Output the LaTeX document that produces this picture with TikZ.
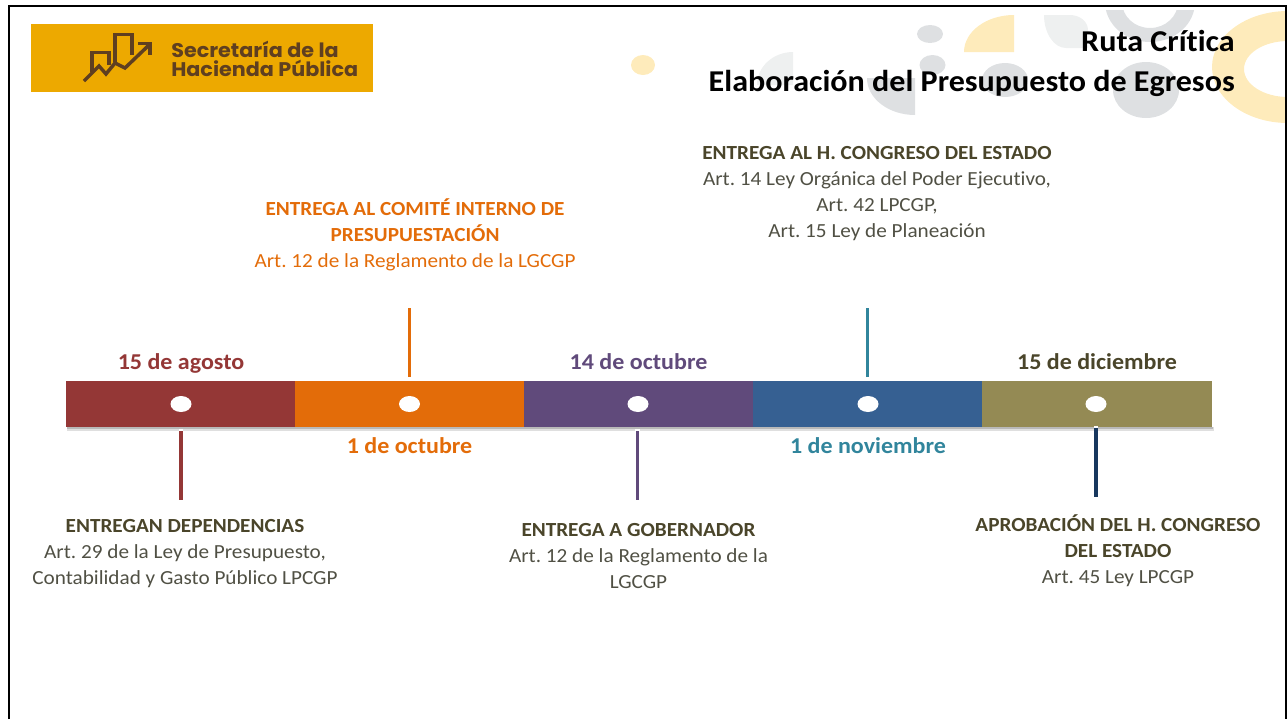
\documentclass[tikz,border=0pt]{standalone}
\usepackage{fontspec}
\setmainfont[FakeStretch=1.06,Ligatures=NoCommon]{Carlito}
\newfontfamily\logofont[FakeStretch=1.05]{Poppins}
\usetikzlibrary{shapes.geometric}
\frenchspacing
\definecolor{rojo}{HTML}{943736}
\definecolor{naranja}{HTML}{E36C09}
\definecolor{morado}{HTML}{604A7B}
\definecolor{azul}{HTML}{366092}
\definecolor{olivo}{HTML}{948A54}
\definecolor{verdeazul}{HTML}{31859C}
\definecolor{marino}{HTML}{17375E}
\definecolor{oscuro}{HTML}{4A452A}
\definecolor{cuerpo}{HTML}{505044}
\definecolor{oro}{HTML}{EDA900}
\definecolor{cafe}{HTML}{5F3F20}
\definecolor{crema}{HTML}{FEEBBB}
\definecolor{gris}{HTML}{DEE0E2}
\definecolor{grisclaro}{HTML}{EEF0F0}
\tikzstyle{seg} = [rectangle, minimum width=229*0.75pt, minimum height=46*0.75pt, inner sep=0pt, outer sep=0pt]
\tikzstyle{dot} = [ellipse, fill=white, minimum width=21*0.75pt, minimum height=16*0.75pt, inner sep=0pt]
\tikzstyle{fecha} = [font=\fontsize{17}{20}\selectfont\bfseries, inner sep=0pt]
\tikzstyle{info} = [align=center, text=cuerpo, inner sep=0pt, font=\fontsize{15}{19.5}\selectfont]
\tikzstyle{leader} = [line width=2.4pt]
\tikzstyle{titulo} = [anchor=east, inner sep=0pt, font=\fontsize{22.7}{26}\selectfont\bfseries]
\newcommand{\encabezado}[1]{{\bfseries\color{oscuro}#1}}

\begin{document}
\begin{tikzpicture}[x=0.75pt,y=-0.75pt]
        \useasboundingbox (0,0) rectangle (1288,719);
        % adornos
        \begin{scope}
        \clip (10,7) rectangle (1285,719);
        \fill [crema] (643,65) ellipse (12 and 10);
        \fill [gris] (930,34) ellipse (13 and 9);
        \fill [gris] (932.5,65) ellipse (13 and 10);
        \fill [grisclaro] (793,52) -- (793,85) -- (757,85) arc (180:270:36 and 33) -- cycle;
        \fill [gris] (915,78) -- (915,115) arc (90:180:48 and 37) -- cycle;
        \fill [gris] (1005,80) ellipse (23 and 17);
        \fill [crema] (1014,52) -- (964,52) arc (180:270:50 and 37) -- cycle;
        \fill [grisclaro] (1044,15) -- (1070,15) arc (-90:0:18 and 15) -- (1088,48) -- (1066,48) arc (90:180:22 and 33) -- cycle;
        \begin{scope}
        \clip (1100,10) rectangle (1200,60);
        \fill [gris, even odd rule] (1150,2) ellipse (45 and 40) (1150,2) ellipse (28 and 26);
        \end{scope}
        \fill [gris] (1146,90) ellipse (33 and 28);
        \fill [crema, even odd rule] (1288,67) ellipse (76 and 56) (1288,69) ellipse (44 and 28);
        \end{scope}
        % marco
        \draw [line width=2.2pt] (9,719) -- (9,6) -- (1286,6) -- (1286,719);
        % logo
        \node [rectangle, fill=oro, minimum width=342*0.75pt, minimum height=68*0.75pt, inner sep=0pt] at (202,58) (logo) {};
        \draw [cafe, line width=2.6pt] (84,81) -- (99,66) -- (106,74) -- (115,63) -- (125,68) -- (149,45);
        \draw [cafe, line width=2.6pt] (92,72) -- (92,52.5) -- (109,52.5) -- (109,65);
        \draw [cafe, line width=2.6pt] (115,62) -- (115,34.5) -- (132,34.5) -- (132,55);
        \draw [cafe, line width=2.6pt] (138,43.5) -- (150,43.5) -- (150,55);
        \node [anchor=west, align=left, text=cafe, inner sep=0pt, font=\logofont\fontsize{14.8}{14.2}\selectfont\bfseries] at (171,58.5) (logotxt) {Secretaría de la\\Hacienda Pública};
        % titulo
        \node [titulo] at (1235,41) (t1) {Ruta Crítica};
        \node [titulo] at (1235,83) (t2) {Elaboración del Presupuesto de Egresos};
        % barra
        \fill [gray!25] (67,427) rectangle (1214,431);
        \fill [gray!55] (67,427) rectangle (1213,429);
        \node [seg, fill=rojo] at (180.5,404) (s1) {};
        \node [seg, fill=naranja] at (409.5,404) (s2) {};
        \node [seg, fill=morado] at (638.5,404) (s3) {};
        \node [seg, fill=azul] at (867.5,404) (s4) {};
        \node [seg, fill=olivo, minimum width=230*0.75pt] at (1097,404) (s5) {};
        \foreach \n/\x in {1/181,2/409.5,3/638,4/868,5/1096}
            \node [dot] at (\x,404) (d\n) {};
        % fechas
        \node [fecha, text=rojo] at (181,363.5) (f1) {15 de agosto};
        \node [fecha, text=naranja] at (409.5,446) (f2) {1 de octubre};
        \node [fecha, text=morado] at (638.5,362) (f3) {14 de octubre};
        \node [fecha, text=verdeazul] at (868,446) (f4) {1 de noviembre};
        \node [fecha, text=oscuro] at (1097,362) (f5) {15 de diciembre};
        % lineas
        \coordinate (a1) at (181,431);
        \coordinate (b1) at (181,500);
        \coordinate (a2) at (409.5,377);
        \coordinate (b2) at (409.5,308);
        \coordinate (a3) at (637.5,431);
        \coordinate (b3) at (637.5,500);
        \coordinate (a4) at (867.5,377);
        \coordinate (b4) at (867.5,308);
        \coordinate (a5) at (1096,428);
        \coordinate (b5) at (1096,497);
        \foreach \n in {1,3,5}
            \draw [white, line width=3.6pt] ([yshift=1.6pt]a\n) -- (a\n);
        \draw [leader, rojo] (a1) -- (b1);
        \draw [leader, naranja] (a2) -- (b2);
        \draw [leader, morado] (a3) -- (b3);
        \draw [leader, verdeazul] (a4) -- (b4);
        \draw [leader, marino] (a5) -- (b5);
        % textos
        \node [info] at (185,553.5) (i1) {\encabezado{ENTREGAN DEPENDENCIAS}\\Art. 29 de la Ley de Presupuesto,\\Contabilidad y Gasto Público LPCGP};
        \node [info] at (415,235) (i2) {{\bfseries\color{naranja}ENTREGA AL COMITÉ INTERNO DE}\\{\bfseries\color{naranja}PRESUPUESTACIÓN}\\{\color{naranja}Art. 12 de la Reglamento de la LGCGP}};
        \node [info] at (638.5,555.5) (i3) {\encabezado{ENTREGA A GOBERNADOR}\\Art. 12 de la Reglamento de la\\LGCGP};
        \node [info] at (877,194) (i4) {\encabezado{ENTREGA AL H. CONGRESO DEL ESTADO}\\Art. 14 Ley Orgánica del Poder Ejecutivo,\\Art. 42 LPCGP,\\Art. 15 Ley de Planeación};
        \node [info] at (1118,550.5) (i5) {\encabezado{APROBACIÓN DEL H. CONGRESO}\\\encabezado{DEL ESTADO}\\Art. 45 Ley LPCGP};
\end{tikzpicture}
\end{document}
